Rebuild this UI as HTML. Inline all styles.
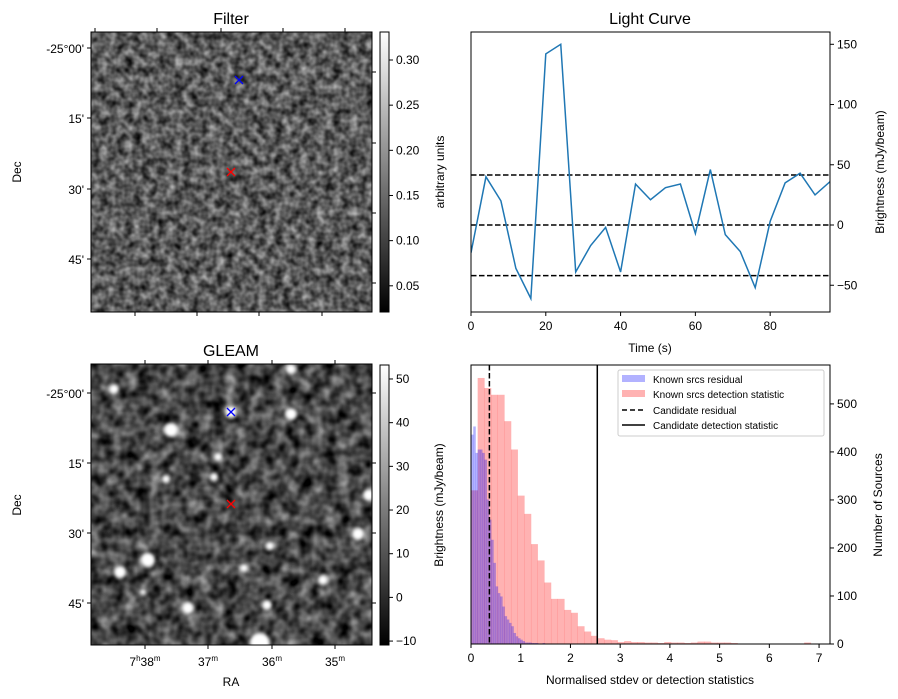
<!DOCTYPE html>
<html><head><meta charset="utf-8">
<style>
html,body{margin:0;padding:0;background:#fff;}
svg{display:block;font-family:"Liberation Sans","DejaVu Sans",sans-serif;}
text{fill:#000;}
</style></head>
<body>
<svg id="fig" width="898" height="699" viewBox="0 0 898 699" xmlns="http://www.w3.org/2000/svg">
<defs>
  <filter id="noiseA" x="0" y="0" width="100%" height="100%" color-interpolation-filters="sRGB">
    <feTurbulence type="fractalNoise" baseFrequency="0.12" numOctaves="2" seed="3"/>
    <feColorMatrix type="matrix" values="0.85 0 0 0 -0.07  0.85 0 0 0 -0.07  0.85 0 0 0 -0.07  0 0 0 0 1"/>
  </filter>
  <filter id="noiseB" x="0" y="0" width="100%" height="100%" color-interpolation-filters="sRGB">
    <feTurbulence type="fractalNoise" baseFrequency="0.08" numOctaves="2" seed="9"/>
    <feColorMatrix type="matrix" values="0.9 0 0 0 -0.17  0.9 0 0 0 -0.17  0.9 0 0 0 -0.17  0 0 0 0 1"/>
  </filter>
  <filter id="blur2"><feGaussianBlur stdDeviation="1.8"/></filter>
  <linearGradient id="gray" x1="0" y1="1" x2="0" y2="0">
    <stop offset="0" stop-color="#000"/><stop offset="1" stop-color="#fff"/>
  </linearGradient>
  <clipPath id="clipA"><rect x="91" y="32" width="281" height="280"/></clipPath>
  <clipPath id="clipB"><rect x="91" y="364" width="281" height="281"/></clipPath>
  <clipPath id="clipLC"><rect x="471" y="32" width="359" height="280"/></clipPath>
  <clipPath id="clipH"><rect x="471" y="365" width="359" height="279"/></clipPath>
</defs>

<g>
  <text x="231" y="24" font-size="16" text-anchor="middle">Filter</text>
  <g clip-path="url(#clipA)">
    <rect x="91" y="32" width="281" height="280" filter="url(#noiseA)"/>
  </g>
  <rect x="91" y="32" width="281" height="280" fill="none" stroke="#000" stroke-width="1"/>
  <g stroke="#000" stroke-width="1">
    <line x1="95" y1="32" x2="95" y2="28"/><line x1="157" y1="32" x2="157" y2="28"/><line x1="221" y1="32" x2="221" y2="28"/><line x1="283" y1="32" x2="283" y2="28"/><line x1="345" y1="32" x2="345" y2="28"/>
    <line x1="135" y1="312" x2="135" y2="316"/><line x1="197" y1="312" x2="197" y2="316"/><line x1="259" y1="312" x2="259" y2="316"/><line x1="322" y1="312" x2="322" y2="316"/>
    <line x1="91" y1="48" x2="87" y2="48"/><line x1="91" y1="118" x2="87" y2="118"/><line x1="91" y1="189" x2="87" y2="189"/><line x1="91" y1="259" x2="87" y2="259"/>
    <line x1="372" y1="72" x2="376" y2="72"/><line x1="372" y1="143" x2="376" y2="143"/><line x1="372" y1="213" x2="376" y2="213"/><line x1="372" y1="283" x2="376" y2="283"/>
  </g>
  <g font-size="12" text-anchor="end">
    <text x="84" y="53">-25°00'</text><text x="84" y="123">15'</text><text x="84" y="194">30'</text><text x="84" y="264">45'</text>
  </g>
  <text transform="translate(21,172) rotate(-90)" font-size="12" text-anchor="middle">Dec</text>
  <g stroke-width="1.3">
    <path d="M235,76 l8,8 M243,76 l-8,8" stroke="#0000ff"/>
    <path d="M227,168 l8,8 M235,168 l-8,8" stroke="#ff0000"/>
  </g>
  <g>
    <rect x="380" y="32" width="9" height="280" fill="url(#gray)" stroke="#000" stroke-width="1"/>
    <g id="cbA"></g>
  </g>
  <text transform="translate(444,172) rotate(-90)" font-size="12" text-anchor="middle">arbitrary units</text>
</g>

<g>
  <text x="231" y="356" font-size="16" text-anchor="middle">GLEAM</text>
  <g clip-path="url(#clipB)">
    <rect x="91" y="364" width="281" height="281" filter="url(#noiseB)"/>
    <g fill="#fff" filter="url(#blur2)" id="blobs"></g>
  </g>
  <rect x="91" y="364" width="281" height="281" fill="none" stroke="#000" stroke-width="1"/>
  <g stroke="#000" stroke-width="1">
    <line x1="145" y1="364" x2="145" y2="360"/><line x1="208" y1="364" x2="208" y2="360"/><line x1="272" y1="364" x2="272" y2="360"/><line x1="335" y1="364" x2="335" y2="360"/>
    <line x1="145" y1="645" x2="145" y2="649"/><line x1="208" y1="645" x2="208" y2="649"/><line x1="272" y1="645" x2="272" y2="649"/><line x1="335" y1="645" x2="335" y2="649"/>
    <line x1="91" y1="393" x2="87" y2="393"/><line x1="91" y1="463" x2="87" y2="463"/><line x1="91" y1="533" x2="87" y2="533"/><line x1="91" y1="603" x2="87" y2="603"/>
    <line x1="372" y1="393" x2="376" y2="393"/><line x1="372" y1="463" x2="376" y2="463"/><line x1="372" y1="533" x2="376" y2="533"/><line x1="372" y1="603" x2="376" y2="603"/>
  </g>
  <g font-size="12" text-anchor="end">
    <text x="84" y="398">-25°00'</text><text x="84" y="468">15'</text><text x="84" y="538">30'</text><text x="84" y="608">45'</text>
  </g>
  <g font-size="12" text-anchor="middle">
    <text x="145" y="666">7<tspan font-size="8" dy="-5">h</tspan><tspan dy="5">38</tspan><tspan font-size="8" dy="-5">m</tspan></text>
    <text x="208" y="666">37<tspan font-size="8" dy="-5">m</tspan></text>
    <text x="272" y="666">36<tspan font-size="8" dy="-5">m</tspan></text>
    <text x="335" y="666">35<tspan font-size="8" dy="-5">m</tspan></text>
  </g>
  <text x="231" y="686" font-size="12" text-anchor="middle">RA</text>
  <text transform="translate(21,505) rotate(-90)" font-size="12" text-anchor="middle">Dec</text>
  <g stroke-width="1.3">
    <path d="M227,408 l8,8 M235,408 l-8,8" stroke="#0000ff"/>
    <path d="M227,500 l8,8 M235,500 l-8,8" stroke="#ff0000"/>
  </g>
  <g>
    <rect x="380" y="365" width="9" height="280" fill="url(#gray)" stroke="#000" stroke-width="1"/>
    <g id="cbB"></g>
  </g>
  <text transform="translate(443,505) rotate(-90)" font-size="12" text-anchor="middle">Brightness (mJy/beam)</text>
</g>

<g>
  <text x="650" y="24" font-size="16" text-anchor="middle">Light Curve</text>
  <g id="lc"></g>
  <rect x="471" y="32" width="359" height="280" fill="none" stroke="#000" stroke-width="1"/>
  <text x="650" y="352" font-size="12" text-anchor="middle">Time (s)</text>
  <text transform="translate(884,172) rotate(-90)" font-size="12" text-anchor="middle">Brightness (mJy/beam)</text>
</g>

<g>
  <g id="hist"></g>
  <rect x="471" y="365" width="359" height="279" fill="none" stroke="#000" stroke-width="1"/>
  <text x="650" y="684" font-size="12" text-anchor="middle">Normalised stdev or detection statistics</text>
  <text transform="translate(882,505) rotate(-90)" font-size="12" text-anchor="middle">Number of Sources</text>
  <g>
    <rect x="618" y="370" width="206" height="66" rx="2" fill="#fff" fill-opacity="0.8" stroke="#ccc"/>
    <rect x="622" y="375" width="23" height="7" fill="#0000ff" fill-opacity="0.3"/>
    <text x="653" y="383" font-size="10">Known srcs residual</text>
    <rect x="622" y="390" width="23" height="7" fill="#ff0000" fill-opacity="0.3"/>
    <text x="653" y="398" font-size="10">Known srcs detection statistic</text>
    <line x1="622" y1="410" x2="645" y2="410" stroke="#000" stroke-width="1.5" stroke-dasharray="5,3"/>
    <text x="653" y="414" font-size="10">Candidate residual</text>
    <line x1="622" y1="425" x2="645" y2="425" stroke="#000" stroke-width="1.5"/>
    <text x="653" y="429" font-size="10">Candidate detection statistic</text>
  </g>
</g>
</svg>
<script>
const NS="http://www.w3.org/2000/svg";
function mk(tag,attrs,parent){const e=document.createElementNS(NS,tag);for(const k in attrs)e.setAttribute(k,attrs[k]);parent.appendChild(e);return e;}

const cbATicks=[0.05,0.10,0.15,0.20,0.25,0.30];
const cbBTicks=[-10,0,10,20,30,40,50];
function cbTicks(gid,ticks,v0,v1,top,bot,dec){
  const g=document.getElementById(gid);
  ticks.forEach(t=>{const y=bot-(t-v0)/(v1-v0)*(bot-top);
    mk('line',{x1:389,y1:y,x2:393,y2:y,stroke:'#000'},g);
    const tx=mk('text',{x:396,y:y+4,'font-size':12},g);tx.textContent=dec?t.toFixed(2):(t<0?'\u2212'+(-t):String(t));});
}
cbTicks('cbA',cbATicks,0.021,0.331,32,312,true);
cbTicks('cbB',cbBTicks,-10.9,53.2,365,645,false);

const blobs=[[114,389,5],[171,430,7],[231,412,6],[291,414,6],[291,369,5],[148,560,7],[120,572,6],[188,608,6],[267,605,5],[260,643,10],[323,580,5],[358,534,6],[369,495,6],[218,457,4],[214,477,4],[270,546,4],[244,568,4],[166,479,4],[143,592,3]];
const bg=document.getElementById('blobs');
blobs.forEach(b=>{const c=mk('circle',{cx:b[0],cy:b[1],r:b[2]},bg);

});

const lcTimes=[0,4,8,12,16,20,24,28,32,36,40,44,48,52,56,60,64,68,72,76,80,84,88,92,96];
const lcValues=[-23,40,20,-36,-61,142,150,-39,-17,-2,-39,34,21,31,34,-7,46,-8,-22,-52,3,35,43,25,36];
const lcLevels=[-42,0,41.5];
const lcXTicks=[0,20,40,60,80];
const lcYTicks=[-50,0,50,100,150];
const lcX=t=>471+(t-0)/(96-0)*359;
const lcY=v=>312-(v-(-72.2))/(160.2-(-72.2))*280;
const lc=document.getElementById('lc');
const lcg=mk('g',{'clip-path':'url(#clipLC)'},lc);
lcLevels.forEach(l=>{const ln=mk('line',{x1:471,x2:830,y1:lcY(l),y2:lcY(l),stroke:'#000','stroke-width':1.5,'stroke-dasharray':'5.5,2.5'},lcg);

});
const pl=mk('polyline',{points:lcTimes.map((t,i)=>lcX(t)+','+lcY(lcValues[i])).join(' '),fill:'none',stroke:'#1f77b4','stroke-width':1.5},lcg);


lcXTicks.forEach(t=>{const x=lcX(t);mk('line',{x1:x,x2:x,y1:312,y2:316,stroke:'#000'},lc);
const tx=mk('text',{x:x,y:330,'font-size':12,'text-anchor':'middle'},lc);tx.textContent=t;});
lcYTicks.forEach(t=>{const y=lcY(t);mk('line',{x1:830,x2:834,y1:y,y2:y,stroke:'#000'},lc);
const tx=mk('text',{x:837,y:y+4,'font-size':12},lc);tx.textContent=t<0?'\u2212'+(-t):t;});

const redBinWidth=0.134;
const redCounts=[320,554,533,519,519,464,405,309,271,208,174,128,94,94,71,65,37,26,17,12,9,8,4,6,4,4,3,3,2,4,3,3,2,3,5,5,3,3,3,2,0,0,0,0,0,0,0,0,0,0,3];
const blueBinWidth=0.045;
const blueCounts=[436,453,398,405,405,398,384,301,259,217,169,120,106,99,78,58,51,44,37,23,16,12,9,6,3,3,3,2,2,2,1,1,2,1,1,1];
const candResidual=0.37;
const candDetection=2.54;
const histXTicks=[0,1,2,3,4,5,6,7];
const histYTicks=[0,100,200,300,400,500];
const hX=v=>471+v/7.22*359;
const hY=c=>644-c/581*279;
const hYL=c=>644-c/581*279;
const hs=document.getElementById('hist');
const hg=mk('g',{'clip-path':'url(#clipH)'},hs);
redCounts.forEach((c,i)=>{if(c<=0)return;const x0=hX(i*redBinWidth),x1=hX((i+1)*redBinWidth);
const r=mk('rect',{x:x0,y:hY(c),width:x1-x0+0.3,height:644-hY(c),fill:'#ff0000','fill-opacity':0.3},hg);

});
blueCounts.forEach((c,i)=>{const x0=hX(i*blueBinWidth),x1=hX((i+1)*blueBinWidth);
const r=mk('rect',{x:x0,y:hYL(c),width:x1-x0+0.3,height:644-hYL(c),fill:'#0000ff','fill-opacity':0.3},hg);

});
const dl=mk('line',{x1:hX(candResidual),x2:hX(candResidual),y1:365,y2:644,stroke:'#000','stroke-width':1.5,'stroke-dasharray':'5.5,2.5'},hg);


const sl=mk('line',{x1:hX(candDetection),x2:hX(candDetection),y1:365,y2:644,stroke:'#000','stroke-width':1.5},hg);


histXTicks.forEach(t=>{const x=hX(t);mk('line',{x1:x,x2:x,y1:644,y2:648,stroke:'#000'},hs);
const tx=mk('text',{x:x,y:662,'font-size':12,'text-anchor':'middle'},hs);tx.textContent=t;});
histYTicks.forEach(t=>{const y=hY(t);mk('line',{x1:830,x2:834,y1:y,y2:y,stroke:'#000'},hs);
const tx=mk('text',{x:837,y:y+4,'font-size':12},hs);tx.textContent=t;});
</script>
</body></html>
